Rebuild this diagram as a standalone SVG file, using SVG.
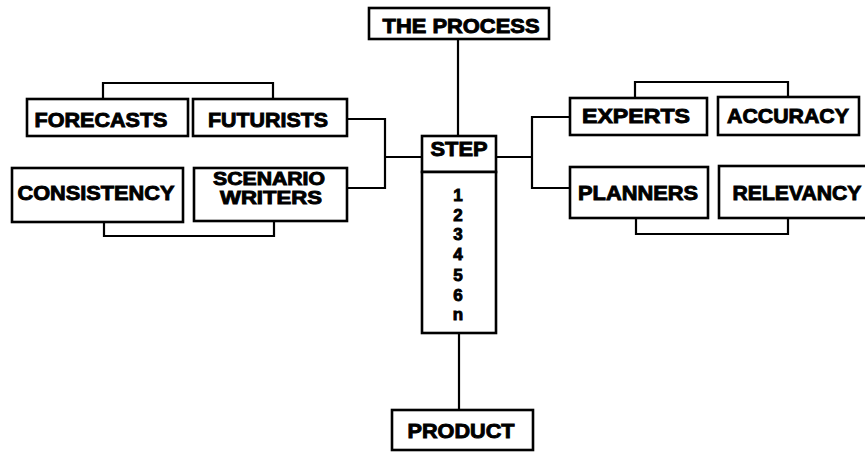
<svg xmlns="http://www.w3.org/2000/svg" width="865" height="452" viewBox="0 0 865 452">
<style>
rect.box{fill:#fff;stroke:#000;stroke-width:2.6}
.conn path,.conn line{fill:none;stroke:#000;stroke-width:2.2}
text{font-family:"Liberation Sans",Arial,sans-serif;font-weight:bold;font-size:20px;fill:#000;stroke:#000;stroke-width:0.9;text-anchor:middle}
text.s{font-size:18px}
text.d{font-size:17px}
</style>
<rect width="865" height="452" fill="#fff"/>
<g class="conn">
<line x1="458" y1="39" x2="458" y2="136"/>
<line x1="459" y1="333" x2="459" y2="410"/>
<path d="M103 99 V83 H273 V99"/>
<path d="M104 221 V236 H274 V221"/>
<path d="M347 119 H385 V188 H347"/>
<line x1="385" y1="157" x2="422" y2="157"/>
<path d="M570 117 H532 V188 H570"/>
<line x1="496" y1="157" x2="532" y2="157"/>
<path d="M635 98 V82 H788 V97"/>
<path d="M636 218 V234 H788 V218"/>
</g>
<g id="the-process"><rect class="box" x="369" y="8" width="180" height="31"/><text x="461" y="33" textLength="157" lengthAdjust="spacingAndGlyphs">THE PROCESS</text></g>
<g id="step"><rect class="box" x="422" y="136" width="74" height="36"/><text x="459" y="156" textLength="57" lengthAdjust="spacingAndGlyphs">STEP</text></g>
<g id="steps"><rect class="box" x="422" y="172" width="74" height="161"/>
<text class="d" x="458" y="201">1</text><text class="d" x="458" y="221">2</text><text class="d" x="458" y="240">3</text><text class="d" x="458" y="260">4</text><text class="d" x="458" y="281">5</text><text class="d" x="458" y="301">6</text><text class="d" x="458" y="320">n</text></g>
<g id="product"><rect class="box" x="392" y="410" width="141" height="40"/><text x="461" y="438" textLength="107" lengthAdjust="spacingAndGlyphs">PRODUCT</text></g>
<g id="forecasts"><rect class="box" x="27" y="99" width="161" height="37"/><text x="101" y="127" textLength="133" lengthAdjust="spacingAndGlyphs">FORECASTS</text></g>
<g id="futurists"><rect class="box" x="193" y="99" width="154" height="37"/><text x="268" y="127" textLength="120" lengthAdjust="spacingAndGlyphs">FUTURISTS</text></g>
<g id="consistency"><rect class="box" x="12" y="168" width="171" height="54"/><text x="96" y="200" textLength="157" lengthAdjust="spacingAndGlyphs">CONSISTENCY</text></g>
<g id="scenario-writers"><rect class="box" x="194" y="168" width="153" height="53"/><text class="s" x="269" y="185" textLength="112" lengthAdjust="spacingAndGlyphs">SCENARIO</text><text class="s" x="271" y="204" textLength="102" lengthAdjust="spacingAndGlyphs">WRITERS</text></g>
<g id="experts"><rect class="box" x="570" y="98" width="137" height="37"/><text x="636" y="123" textLength="108" lengthAdjust="spacingAndGlyphs">EXPERTS</text></g>
<g id="accuracy"><rect class="box" x="718" y="97" width="141" height="38"/><text x="788" y="123" textLength="122" lengthAdjust="spacingAndGlyphs">ACCURACY</text></g>
<g id="planners"><rect class="box" x="570" y="167" width="138" height="51"/><text x="638" y="200" textLength="120" lengthAdjust="spacingAndGlyphs">PLANNERS</text></g>
<g id="relevancy"><rect class="box" x="719" y="166" width="150" height="52"/><text x="797" y="200" textLength="129" lengthAdjust="spacingAndGlyphs">RELEVANCY</text></g>
</svg>
